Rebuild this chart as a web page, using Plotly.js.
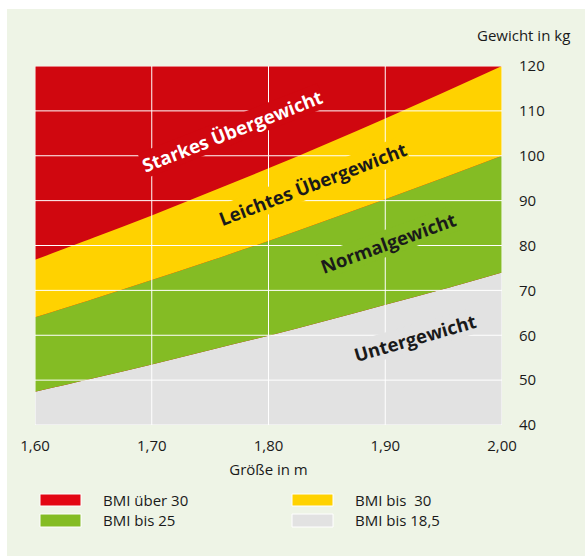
<!DOCTYPE html>
<html>
<head>
<meta charset="utf-8">
<script src="https://cdn.plot.ly/plotly-3.0.1.min.js"></script>
<style>
  html, body { margin: 0; padding: 0; background: #ffffff; width: 585px; height: 556px; overflow: hidden; }
  #chart { position: absolute; left: 7px; top: 9px; width: 578px; height: 547px; }
</style>
</head>
<body>
<div id="chart"></div>
<script>
// ---- data ----
const heights = [1.60, 1.65, 1.70, 1.75, 1.80, 1.85, 1.90, 1.95, 2.00];
const weightBmi185 = [47.4, 50.4, 53.5, 56.7, 59.9, 63.3, 66.8, 70.3, 74.0];
const weightBmi25  = [64.0, 68.1, 72.3, 76.6, 81.0, 85.6, 90.3, 95.1, 100.0];
const weightBmi30  = [76.8, 81.7, 86.7, 91.9, 97.2, 102.7, 108.3, 114.1, 120.0];

const xTicks = [1.60, 1.70, 1.80, 1.90, 2.00];
const yTicks = [40, 50, 60, 70, 80, 90, 100, 110, 120];

const bandNames = ["Untergewicht", "Normalgewicht", "Leichtes Übergewicht", "Starkes Übergewicht"];
const legendLabels = ["BMI über 30", "BMI bis  30", "BMI bis 25", "BMI bis 18,5"];

// ---- styles ----
const RED = "#d0070f", RED_LEG = "#e30613", YELLOW = "#ffd200", GREEN = "#84bc24", GRAY = "#e2e2e2";
const PANEL = "#eef4e6";
const FONT = "Open Sans, Noto Sans, sans-serif";
const TXT = "#1a1a1a";

const traces = [
  { x: heights, y: weightBmi185, type: "scatter", mode: "lines", line: { width: 0, shape: "spline" },
    fill: "tozeroy", fillcolor: GRAY, hoverinfo: "skip", showlegend: false },
  { x: heights, y: weightBmi25, type: "scatter", mode: "lines", line: { width: 0, shape: "spline" },
    fill: "tonexty", fillcolor: GREEN, hoverinfo: "skip", showlegend: false },
  { x: heights, y: weightBmi30, type: "scatter", mode: "lines", line: { width: 0, shape: "spline" },
    fill: "tonexty", fillcolor: YELLOW, hoverinfo: "skip", showlegend: false }
];

// page pixel -> paper helpers (plot area: page x 35..502, y 66..425)
const PL = 35, PR = 502, PT = 66, PB = 425;
const px = v => (v - PL) / (PR - PL);
const py = v => (PB - v) / (PB - PT);

const shapes = [];
// grid lines above the fills
xTicks.slice(1, -1).forEach(v => shapes.push({ type: "line", xref: "x", yref: "y", x0: v, x1: v, y0: yTicks[0], y1: yTicks[yTicks.length - 1], line: { color: "#ffffff", width: 1 }, layer: "above" }));
yTicks.slice(1, -1).forEach(v => shapes.push({ type: "line", xref: "x", yref: "y", x0: xTicks[0], x1: xTicks[xTicks.length - 1], y0: v, y1: v, line: { color: "#ffffff", width: 1 }, layer: "above" }));
shapes.push({ type: "rect", xref: "x", yref: "y", x0: xTicks[0], x1: xTicks[xTicks.length - 1], y0: yTicks[0], y1: yTicks[yTicks.length - 1], line: { color: "#ffffff", width: 1 }, layer: "above" });

// custom legend
const legColors = [RED_LEG, YELLOW, GREEN, GRAY];
const legSw = [[40, 81, 494, 506], [292, 333, 494, 506], [40, 81, 514, 527], [292, 333, 514, 527]];
const legTxt = [[101, 500], [353, 500], [101, 520], [353, 520]];
const annotations = [];
legendLabels.forEach((lab, i) => {
  const s = legSw[i];
  shapes.push({ type: "rect", xref: "paper", yref: "paper", x0: px(s[0]), x1: px(s[1]), y0: py(s[3]), y1: py(s[2]), fillcolor: legColors[i], line: { color: "#ffffff", width: 1 } });
  annotations.push({ xref: "paper", yref: "paper", x: px(legTxt[i][0]), y: py(legTxt[i][1]), xanchor: "left", yanchor: "middle", text: lab, showarrow: false, font: { family: FONT, size: 15, color: TXT } });
});

// y axis caption
annotations.push({ xref: "paper", yref: "paper", x: px(572), y: py(35), xanchor: "right", yanchor: "middle", text: "Gewicht in kg", showarrow: false, font: { family: FONT, size: 15, color: TXT } });

// band labels
const bandPos = [[1.9256, 59.4, -16, GRAY, TXT], [1.9025, 80.6, -20, GREEN, TXT], [1.838, 93.8, -21, YELLOW, TXT], [1.769, 105.7, -21.5, RED, "#ffffff"]];
bandNames.forEach((n, i) => {
  const p = bandPos[i];
  annotations.push({ xref: "x", yref: "y", x: p[0], y: p[1], text: "<b>" + n + "</b>", textangle: p[2], showarrow: false,
    bgcolor: p[3], borderpad: 0, font: { family: FONT, size: 18.5, color: p[4] } });
});

const layout = {
  width: 578, height: 547,
  margin: { l: 28, r: 83, t: 57, b: 131, pad: 0 },
  paper_bgcolor: PANEL,
  plot_bgcolor: RED,
  separators: ",.",
  showlegend: false,
  font: { family: FONT, size: 15, color: TXT },
  xaxis: {
    range: [xTicks[0], xTicks[xTicks.length - 1]], tickvals: xTicks, tickformat: ".2f",
    showgrid: false, zeroline: false, showline: false, ticks: "", ticklabelstandoff: 10,
    tickfont: { family: FONT, size: 15, color: TXT },
    title: { text: "Größe in m", font: { family: FONT, size: 15, color: TXT }, standoff: 10 },
    fixedrange: true
  },
  yaxis: {
    side: "right", range: [yTicks[0], yTicks[yTicks.length - 1]], tickvals: yTicks,
    showgrid: false, zeroline: false, showline: false, ticks: "", ticklabelstandoff: 16,
    tickfont: { family: FONT, size: 15, color: TXT },
    fixedrange: true
  },
  shapes: shapes,
  annotations: annotations
};

Plotly.newPlot("chart", traces, layout, { displayModeBar: false, staticPlot: true });
</script>
</body>
</html>
